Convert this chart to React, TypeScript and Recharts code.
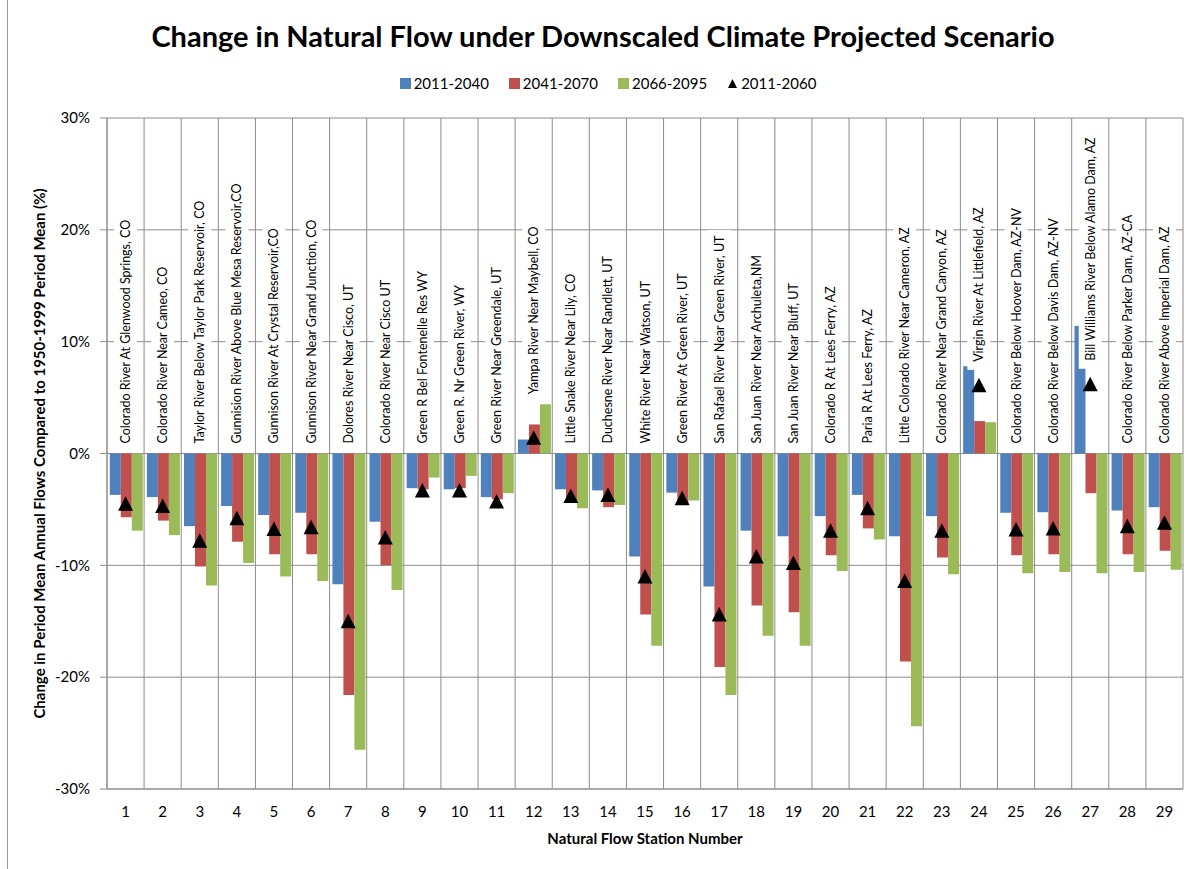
import { ComposedChart, Bar, Line, XAxis, YAxis, CartesianGrid, Legend, LabelList } from 'recharts';

const stations = ['1', '2', '3', '4', '5', '6', '7', '8', '9', '10', '11', '12', '13', '14', '15', '16', '17', '18', '19', '20', '21', '22', '23', '24', '25', '26', '27', '28', '29'];

const stationNames = [
  'Colorado River At Glenwood Springs, CO',
  'Colorado River Near Cameo, CO',
  'Taylor River Below Taylor Park Reservoir, CO',
  'Gunnision River Above Blue Mesa Reservoir,CO',
  'Gunnison River At Crystal Reservoir,CO',
  'Gunnison River Near Grand Junction, CO',
  'Dolores River Near Cisco, UT',
  'Colorado River Near Cisco UT',
  'Green R Bel Fontenelle Res WY',
  'Green R. Nr Green River, WY',
  'Green River Near Greendale, UT',
  'Yampa River Near Maybell, CO',
  'Little Snake River Near Lily, CO',
  'Duchesne River Near Randlett, UT',
  'White River Near Watson, UT',
  'Green River At Green River, UT',
  'San Rafael River Near Green River, UT',
  'San Juan River Near Archuleta,NM',
  'San Juan River Near Bluff, UT',
  'Colorado R At Lees Ferry, AZ',
  'Paria R At Lees Ferry, AZ',
  'Little Colorado River Near Cameron, AZ',
  'Colorado River Near Grand Canyon, AZ',
  'Virgin River At Littlefield, AZ',
  'Colorado River Below Hoover Dam, AZ-NV',
  'Colorado River Below Davis Dam, AZ-NV',
  'Bill Williams River Below Alamo Dam, AZ',
  'Colorado River Below Parker Dam, AZ-CA',
  'Colorado River Above Imperial Dam, AZ',
];

// percent change per station
const change2011_2040 = [-3.7, -3.9, -6.5, -4.7, -5.5, -5.3, -11.7, -6.1, -3.1, -3.2, -3.9, 1.25, -3.2, -3.3, -9.2, -3.5, -11.9, -6.9, -7.4, -5.6, -3.7, -7.4, -5.6, 7.8, -5.3, -5.25, 11.4, -5.1, -4.8];
const change2041_2070 = [-5.7, -6.0, -10.1, -7.9, -9.0, -9.0, -21.6, -10.0, -3.2, -3.1, -4.1, 2.6, -4.3, -4.8, -14.4, -4.6, -19.1, -13.6, -14.2, -9.1, -6.7, -18.6, -9.3, 2.9, -9.1, -9.0, -3.55, -9.0, -8.7];
const change2066_2095 = [-6.9, -7.3, -11.8, -9.8, -11.0, -11.4, -26.5, -12.2, -2.15, -2.0, -3.55, 4.4, -4.9, -4.6, -17.2, -4.2, -21.6, -16.3, -17.2, -10.5, -7.7, -24.4, -10.8, 2.8, -10.7, -10.6, -10.7, -10.6, -10.4];
const change2011_2060 = [-4.5, -4.7, -7.8, -5.8, -6.75, -6.6, -15.0, -7.5, -3.3, -3.3, -4.3, 1.4, -3.8, -3.7, -11.0, -4.0, -14.4, -9.2, -9.8, -6.9, -4.9, -11.4, -6.9, 6.1, -6.8, -6.7, 6.2, -6.5, -6.2];

const yTicks = [-30, -20, -10, 0, 10, 20, 30];

const FONT = 'Lato, "Open Sans", sans-serif';
const GRID = '#8c8c8c';

const series = [
  { key: 'a', name: '2011-2040', color: '#4F81BD' },
  { key: 'b', name: '2041-2070', color: '#C0504D' },
  { key: 'c', name: '2066-2095', color: '#9BBB59' },
];

const data = stations.map((s, i) => ({
  station: s,
  name: stationNames[i],
  a: change2011_2040[i],
  b: change2041_2070[i],
  c: change2066_2095[i],
  t: change2011_2060[i],
  // station name boxes sit just above whatever is drawn upward from zero
  lab: Math.max(0, change2041_2070[i], change2066_2095[i], change2011_2060[i] + 1.2),
}));

let ctx: CanvasRenderingContext2D | null = null;
function textWidth(s: string, font: string) {
  if (!ctx) ctx = document.createElement('canvas').getContext('2d');
  if (!ctx) return s.length * 6;
  ctx.font = font;
  return ctx.measureText(s).width;
}

const LABEL_SIZE = 12.5;

const StationLabel = (props: any) => {
  const { x, y, value } = props;
  if (x == null || y == null) return null;
  const w = textWidth(value, `${LABEL_SIZE}px ${FONT}`);
  const bottom = y - 2;
  const start = bottom - 8;
  return (
    <g>
      <rect x={x - 11.5} y={start - w - 5} width={23} height={w + 13} fill="#fff" />
      <text
        transform={`translate(${x + 4.5}, ${start}) rotate(-90)`}
        fontSize={LABEL_SIZE}
        fontFamily={FONT}
        fill="#000"
      >
        {value}
      </text>
    </g>
  );
};

const Triangle = (props: any) => {
  const { cx, cy } = props;
  if (cx == null || cy == null) return null;
  return <path d={`M${cx},${cy - 7.5} L${cx + 7.5},${cy + 7} L${cx - 7.5},${cy + 7} Z`} fill="#000" />;
};

const renderLegend = () => (
  <div style={{ display: 'flex', justifyContent: 'center', alignItems: 'center', fontFamily: FONT, fontSize: 15, color: '#000' }}>
    {series.map((s) => (
      <div key={s.key} style={{ display: 'flex', alignItems: 'center', marginRight: 20 }}>
        <span style={{ display: 'inline-block', width: 11, height: 11, background: s.color, marginRight: 3 }} />
        <span>{s.name}</span>
      </div>
    ))}
    <div style={{ display: 'flex', alignItems: 'center' }}>
      <svg width={11} height={11} style={{ marginRight: 3 }}>
        <path d="M5.5,1 L10,10 L1,10 Z" fill="#000" />
      </svg>
      <span>2011-2060</span>
    </div>
  </div>
);

export default function App() {
  return (
    <div style={{ position: 'absolute', left: 0, top: 0, width: 1196, height: 869, background: '#fff' }}>
      <div style={{ position: 'absolute', left: 7, top: 0, width: 1, height: 869, background: '#9a9a9a' }} />
      <svg width={1196} height={60} style={{ position: 'absolute', left: 0, top: 0 }}>
        <text x={603} y={47} textAnchor="middle" fontFamily={FONT} fontWeight="bold" fontSize={29} fill="#000">
          Change in Natural Flow under Downscaled Climate Projected Scenario
        </text>
      </svg>
      <ComposedChart
        width={1196}
        height={869}
        data={data}
        margin={{ top: 118, right: 13, bottom: 50, left: 47 }}
        barGap={0}
        barCategoryGap="7.5%"
      >
        <CartesianGrid
          stroke={GRID}
          strokeWidth={1}
          verticalCoordinatesGenerator={({ offset }: any) =>
            Array.from({ length: stations.length + 1 }, (_, i) => offset.left + (i * offset.width) / stations.length)
          }
        />
        <XAxis
          dataKey="station"
          tickLine={false}
          axisLine={{ stroke: GRID }}
          tickMargin={11}
          tick={{ fontSize: 15, fill: '#000', fontFamily: FONT }}
          interval={0}
          label={{
            content: ({ viewBox }: any) => (
              <text
                x={viewBox.x + viewBox.width / 2}
                y={844}
                textAnchor="middle"
                fontFamily={FONT}
                fontWeight="bold"
                fontSize={15}
                fill="#000"
              >
                Natural Flow Station Number
              </text>
            ),
          }}
        />
        <YAxis
          width={60}
          domain={[-30, 30]}
          ticks={yTicks}
          interval={0}
          tickFormatter={(v: number) => `${v}%`}
          axisLine={{ stroke: GRID }}
          tickLine={{ stroke: GRID }}
          tickSize={7}
          tickMargin={10}
          tick={{ fontSize: 15, fill: '#000', fontFamily: FONT }}
          label={{
            content: ({ viewBox }: any) => {
              const cx = viewBox.x - 8;
              const cy = viewBox.y + viewBox.height / 2;
              return (
                <text
                  transform={`translate(${cx}, ${cy}) rotate(-90)`}
                  textAnchor="middle"
                  dominantBaseline="central"
                  fontFamily={FONT}
                  fontWeight="bold"
                  fontSize={15}
                  fill="#000"
                >
                  Change in Period Mean Annual Flows Compared to 1950-1999 Period Mean (%)
                </text>
              );
            },
          }}
        />
        <Legend
          layout="horizontal"
          verticalAlign="middle"
          align="center"
          wrapperStyle={{ top: 74, left: 10, width: 1196 }}
          content={renderLegend}
        />
        {series.map((s) => (
          <Bar key={s.key} dataKey={s.key} name={s.name} fill={s.color} isAnimationActive={false} />
        ))}
        <Line
          dataKey="lab"
          stroke="none"
          dot={false}
          activeDot={false}
          legendType="none"
          isAnimationActive={false}
        >
          <LabelList dataKey="name" content={StationLabel} />
        </Line>
        <Line
          dataKey="t"
          name="2011-2060"
          stroke="none"
          dot={<Triangle />}
          activeDot={false}
          isAnimationActive={false}
        />
      </ComposedChart>
    </div>
  );
}
